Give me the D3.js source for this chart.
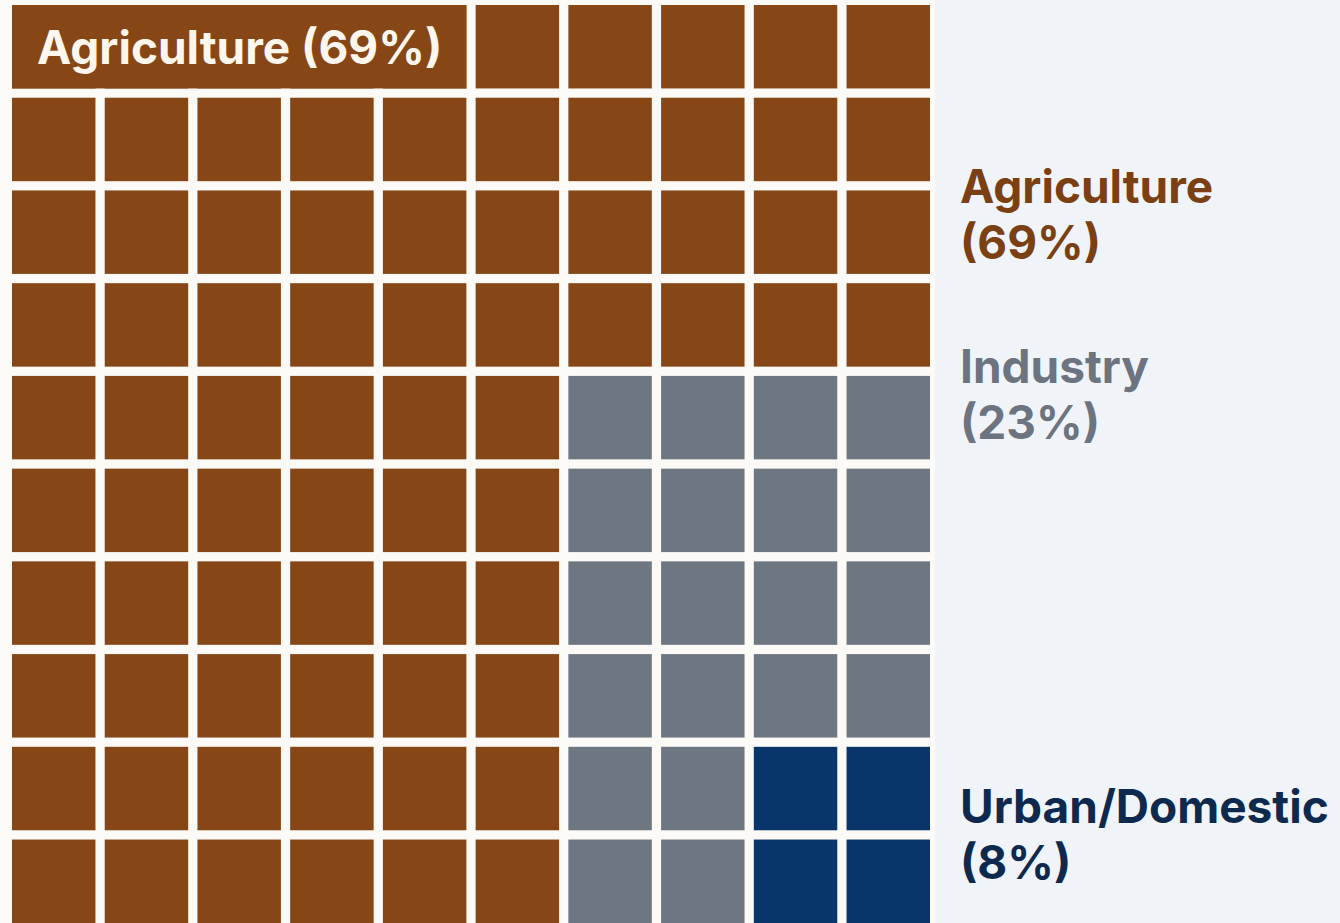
<!DOCTYPE html>
<html>
<head>
<meta charset="utf-8">
<script src="https://cdn.jsdelivr.net/npm/d3@7"></script>
<style>
  html, body { margin: 0; padding: 0; background: #f0f4f8; overflow: hidden; }
  text { font-family: Inter, "Noto Sans", sans-serif; font-weight: 700; }
</style>
</head>
<body>
<div class="container"></div>
<script>
// categories and shares
const categories = ["Agriculture", "Industry", "Urban/Domestic"];
const percents = [69, 23, 8];
const colors = ["#864616", "#6d7782", "#08356a"];
const textColors = ["#7a3f12", "#6b7480", "#0d2a4e"];

// which category each cell of the 10x10 grid belongs to (row by row)
const cellRows = [
    "0000000000",
    "0000000000",
    "0000000000",
    "0000000000",
    "0000001111",
    "0000001111",
    "0000001111",
    "0000001111",
    "0000001122",
    "0000001122"
];

let width = 1340,
    height = 923;

let svg = d3.select(".container")
    .append("svg")
    .attr("width", width)
    .attr("height", height);

let cells = [];
cellRows.forEach((row, r) => {
    row.split("").forEach((c, i) => {
        cells.push({ row: r, col: i, cat: +c });
    });
});

let x = d3.scaleBand()
    .domain(d3.range(10))
    .range([12, 930])
    .paddingInner(0.1);

let y = d3.scaleBand()
    .domain(d3.range(10))
    .range([5, 923])
    .paddingInner(0.1);

// white panel behind grid
svg.append("rect")
    .attr("x", 0)
    .attr("y", 0)
    .attr("width", 935)
    .attr("height", height)
    .attr("fill", "#fcfaf6");

svg.append("g")
    .selectAll("rect")
    .data(cells)
    .enter()
    .append("rect")
    .attr("x", d => x(d.col))
    .attr("y", d => y(d.row))
    .attr("width", x.bandwidth())
    .attr("height", y.bandwidth())
    .attr("fill", d => colors[d.cat]);

// label box on top row
svg.append("rect")
    .attr("x", x(0))
    .attr("y", y(0))
    .attr("width", x(4) + x.bandwidth() - x(0))
    .attr("height", y.bandwidth())
    .attr("fill", colors[0]);

svg.append("text")
    .attr("x", x(0) + 25)
    .attr("y", y(0) + 59)
    .attr("fill", "#fdf6ec")
    .style("font-size", "46px")
    .text(categories[0] + " (" + percents[0] + "%)");

// legend on the right
const labelY = [203, 383, 823];
const legend = svg.append("g");
categories.forEach((c, i) => {
    let t = legend.append("text")
        .attr("x", 960)
        .attr("y", labelY[i])
        .attr("fill", textColors[i])
        .style("font-size", "46px");
    t.append("tspan").attr("x", 960).text(c);
    t.append("tspan").attr("x", 960).attr("dy", 56).text("(" + percents[i] + "%)");
});
</script>
</body>
</html>
